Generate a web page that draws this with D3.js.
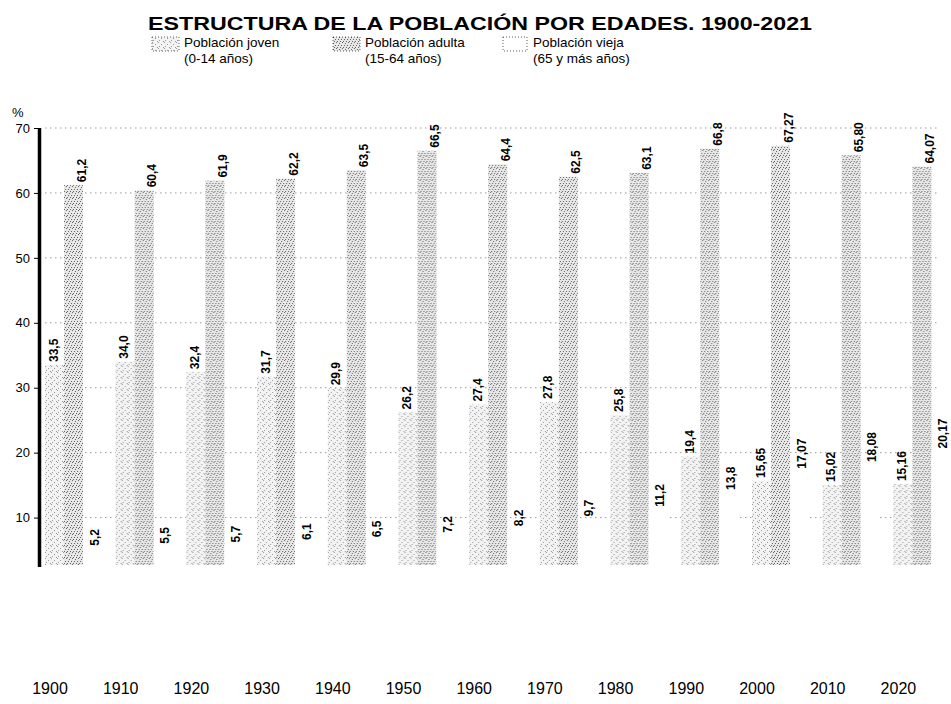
<!DOCTYPE html>
<html>
<head>
<meta charset="utf-8">
<script src="https://cdn.jsdelivr.net/npm/d3@7"></script>
<style>
  body { margin: 0; background: #fff; }
  svg { display: block; font-family: "Liberation Sans", Arial, sans-serif; }
</style>
</head>
<body>
<div id="chart"></div>
<script>
// data
const years = ["1900", "1910", "1920", "1930", "1940", "1950", "1960", "1970", "1980", "1990", "2000", "2010", "2020"];
const joven  = [33.5, 34.0, 32.4, 31.7, 29.9, 26.2, 27.4, 27.8, 25.8, 19.4, 15.65, 15.02, 15.16];
const adulta = [61.2, 60.4, 61.9, 62.2, 63.5, 66.5, 64.4, 62.5, 63.1, 66.8, 67.27, 65.80, 64.07];
const vieja  = [5.2, 5.5, 5.7, 6.1, 6.5, 7.2, 8.2, 9.7, 11.2, 13.8, 17.07, 18.08, 20.17];
const decimals = [1, 1, 1, 1, 1, 1, 1, 1, 1, 1, 2, 2, 2];
const yTicks = [10, 20, 30, 40, 50, 60, 70];
const series = [
  {key: "joven",  name: "Población joven",  sub: "(0-14 años)"},
  {key: "adulta", name: "Población adulta", sub: "(15-64 años)"},
  {key: "vieja",  name: "Población vieja",  sub: "(65 y más años)"}
];

const width = 951, height = 704;
const yFloor = 2.7;   // bars are cut off a little above zero in the original

const data = years.map((y, i) => ({
  year: y, joven: joven[i], adulta: adulta[i], vieja: vieja[i], dec: decimals[i]
}));

const svg = d3.select("#chart").append("svg")
  .attr("width", width)
  .attr("height", height);

// stipple textures
const defs = svg.append("defs");
function stipple(id, bg, dot, pts) {
  const p = defs.append("pattern")
    .attr("id", id)
    .attr("patternUnits", "userSpaceOnUse")
    .attr("width", 6).attr("height", 6);
  p.append("rect").attr("width", 6).attr("height", 6).attr("fill", bg);
  pts.forEach(d => p.append("rect")
    .attr("x", d[0]).attr("y", d[1])
    .attr("width", 1).attr("height", 1)
    .attr("fill", dot));
}
stipple("dotJoven", "#f3f3f3", "#9a9a9a", [[0, 0], [3, 2], [1, 4], [5, 5]]);
stipple("dotAdulta", "#e6e6e6", "#6a6a6a", [[0, 1], [3, 0], [2, 3], [5, 3], [1, 5], [4, 5]]);
const fills = {joven: "url(#dotJoven)", adulta: "url(#dotAdulta)", vieja: "#fff"};

const x = d3.scaleBand()
  .domain(years)
  .range([45, 45 + 70.7 * years.length]);

const xs = d3.scaleBand()
  .domain(series.map(s => s.key))
  .range([0, 57]);

const y = d3.scaleLinear()
  .domain([0, 70])
  .range([582.5, 128]);

// title
svg.append("text")
  .attr("x", 480)
  .attr("y", 30)
  .attr("text-anchor", "middle")
  .attr("textLength", 664)
  .attr("lengthAdjust", "spacingAndGlyphs")
  .style("font-size", "19px")
  .style("font-weight", "bold")
  .text("ESTRUCTURA DE LA POBLACIÓN POR EDADES. 1900-2021");

// legend
const legX = [152, 333, 503];
const leg = svg.append("g").selectAll("g")
  .data(series)
  .join("g")
  .attr("transform", (d, i) => `translate(${legX[i]},0)`);

leg.append("rect")
  .attr("x", 0).attr("y", 37)
  .attr("width", d => d.key === "vieja" ? 24 : 27)
  .attr("height", 14)
  .attr("fill", d => fills[d.key])
  .attr("stroke", "#333")
  .attr("stroke-width", 0.8)
  .attr("stroke-dasharray", "1,2");

leg.append("text")
  .attr("x", d => d.key === "vieja" ? 30 : 32)
  .attr("y", 47)
  .style("font-size", "13.5px")
  .text(d => d.name);

leg.append("text")
  .attr("x", d => d.key === "vieja" ? 30 : 32)
  .attr("y", 63)
  .style("font-size", "13.5px")
  .text(d => d.sub);

// dotted grid
svg.append("g")
  .selectAll("line")
  .data(yTicks)
  .join("line")
  .attr("x1", 45).attr("x2", 940)
  .attr("y1", d => y(d)).attr("y2", d => y(d))
  .attr("stroke", "#222")
  .attr("stroke-opacity", 0.45)
  .attr("stroke-width", 1)
  .attr("stroke-dasharray", "1.5,3.5");

// bars
const groups = svg.append("g")
  .selectAll("g")
  .data(data)
  .join("g")
  .attr("transform", d => `translate(${x(d.year)},0)`);

const cells = d => series.map(s => ({key: s.key, value: d[s.key], dec: d.dec}));

groups.selectAll("rect")
  .data(cells)
  .join("rect")
  .attr("x", d => xs(d.key))
  .attr("width", xs.bandwidth())
  .attr("y", d => y(d.value))
  .attr("height", d => y(yFloor) - y(d.value))
  .attr("fill", d => fills[d.key]);

// value labels, vertical
const shift = {joven: -1, adulta: 8, vieja: 2};
groups.selectAll("text")
  .data(cells)
  .join("text")
  .attr("transform", d =>
    `translate(${xs(d.key) + xs.bandwidth() / 2 + shift[d.key] + 4},${y(d.value) - 3}) rotate(-90)`)
  .style("font-size", "12px")
  .style("font-weight", "bold")
  .text(d => d.value.toFixed(d.dec).replace(".", ","));

// y axis
const yAxis = svg.append("g")
  .attr("transform", "translate(39,0)")
  .call(d3.axisLeft(y).tickValues(yTicks).tickSize(5).tickPadding(4));
yAxis.select(".domain").remove();
yAxis.selectAll("text")
  .style("font-size", "13px")
  .style("font-family", "Liberation Sans, Arial, sans-serif");

svg.append("line")
  .attr("x1", 39.5).attr("x2", 39.5)
  .attr("y1", y(70)).attr("y2", y(yFloor) + 2)
  .attr("stroke", "#000")
  .attr("stroke-width", 3.5);

svg.append("text")
  .attr("x", 12).attr("y", 117)
  .style("font-size", "13px")
  .text("%");

// x labels
svg.append("g")
  .selectAll("text")
  .data(years)
  .join("text")
  .attr("x", d => x(d) + 5)
  .attr("y", 694)
  .attr("text-anchor", "middle")
  .style("font-size", "16px")
  .text(d => d);
</script>
</body>
</html>
